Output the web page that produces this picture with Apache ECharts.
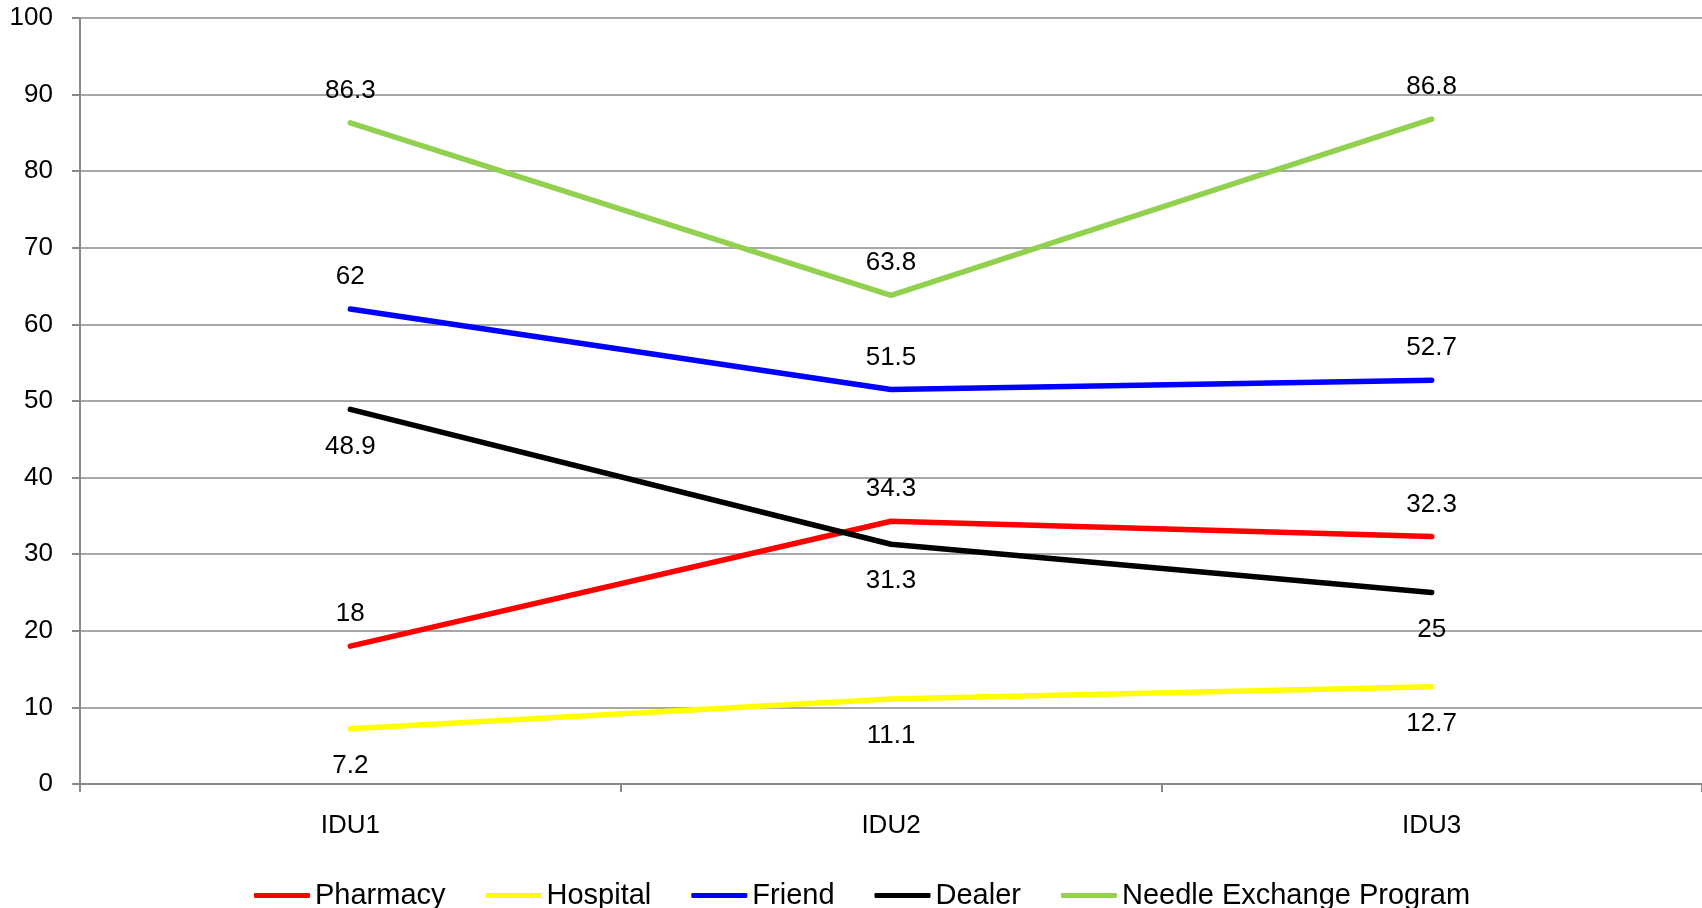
<!DOCTYPE html>
<html>
<head>
<meta charset="utf-8">
<script src="https://cdn.jsdelivr.net/npm/echarts@6/dist/echarts.min.js"></script>
<style>html,body{margin:0;padding:0;background:#fff;}#c{width:1702px;height:908px;}</style>
</head>
<body>
<div id="c"></div>
<script>
const categories = ['IDU1', 'IDU2', 'IDU3'];
const seriesNames = ['Pharmacy', 'Hospital', 'Friend', 'Dealer', 'Needle Exchange Program'];
const pharmacy = [18, 34.3, 32.3];
const hospital = [7.2, 11.1, 12.7];
const friend = [62, 51.5, 52.7];
const dealer = [48.9, 31.3, 25];
const needleExchange = [86.3, 63.8, 86.8];
const yTicks = [0, 10, 20, 30, 40, 50, 60, 70, 80, 90, 100];

const values = [pharmacy, hospital, friend, dealer, needleExchange];
const colors = ['#ff0000', '#ffff00', '#0000ff', '#000000', '#92d050'];
const labelSide = ['top', 'bottom', 'top', 'bottom', 'top'];

const chart = echarts.init(document.getElementById('c'));
const FONT = '"Liberation Sans", Arial, sans-serif';

chart.setOption({
  animation: false,
  backgroundColor: '#ffffff',
  grid: { left: 80, right: 0, top: 18, bottom: 124, containLabel: false },
  legend: {
    data: seriesNames.map((n, i) => ({ name: n, itemStyle: { color: colors[i] } })),
    left: 249,
    top: 876,
    icon: 'roundRect',
    itemWidth: 56,
    itemHeight: 5,
    itemGap: 40,
    textStyle: { fontFamily: FONT, fontSize: 29, color: '#000' }
  },
  xAxis: {
    type: 'category',
    data: categories,
    boundaryGap: true,
    axisLine: { show: true, lineStyle: { color: '#8a8a8a', width: 2 } },
    axisTick: { show: true, length: 8, alignWithLabel: false, lineStyle: { color: '#8a8a8a', width: 2 } },
    axisLabel: { fontFamily: FONT, fontSize: 26, color: '#000', margin: 29 },
    splitLine: { show: false }
  },
  yAxis: {
    type: 'value',
    min: yTicks[0],
    max: yTicks[yTicks.length - 1],
    interval: yTicks[1] - yTicks[0],
    axisLine: { show: true, lineStyle: { color: '#8a8a8a', width: 2 } },
    axisTick: { show: true, length: 8, lineStyle: { color: '#8a8a8a', width: 2 } },
    axisLabel: { fontFamily: FONT, fontSize: 26, color: '#000', margin: 27 },
    splitLine: { show: true, lineStyle: { color: '#8a8a8a', width: 1.5 } }
  },
  series: seriesNames.map((name, i) => ({
    name: name,
    type: 'line',
    data: values[i],
    color: colors[i],
    symbol: 'circle',
    symbolSize: 0.1,
    showSymbol: true,
    itemStyle: { color: colors[i] },
    lineStyle: { color: colors[i], width: 5.5, cap: 'round', join: 'round' },
    label: {
      show: true,
      position: labelSide[i],
      distance: labelSide[i] === 'top' ? 19 : 24,
      fontFamily: FONT,
      fontSize: 26,
      color: '#000'
    },
    emphasis: { disabled: true }
  }))
});
</script>
</body>
</html>
